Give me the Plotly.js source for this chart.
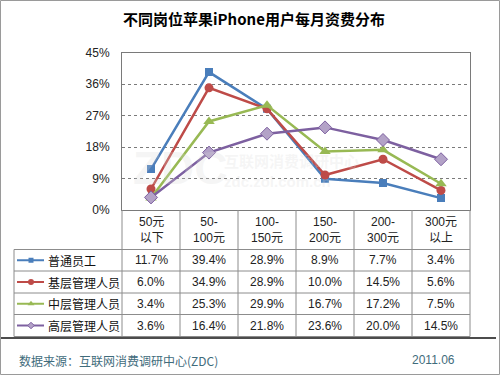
<!DOCTYPE html>
<html>
<head>
<meta charset="utf-8">
<script src="https://cdn.plot.ly/plotly-3.0.1.min.js"></script>
<style>html,body{margin:0;padding:0;background:#fff;}#chart{width:500px;height:375px;}</style>
</head>
<body>
<div id="chart"></div>
<script>
// ---- data ----
const categories = ['50元<br>以下', '50-<br>100元', '100-<br>150元', '150-<br>200元', '200-<br>300元', '300元<br>以上'];
const seriesNames = ['普通员工', '基层管理人员', '中层管理人员', '高层管理人员'];
const staff      = [11.7, 39.4, 28.9, 8.9, 7.7, 3.4];
const juniorMgr  = [6.0, 34.9, 28.9, 10.0, 14.5, 5.6];
const middleMgr  = [3.4, 25.3, 29.9, 16.7, 17.2, 7.5];
const seniorMgr  = [3.6, 16.4, 21.8, 23.6, 20.0, 14.5];
const yTicks = [0, 9, 18, 27, 36, 45];
const titleText = '不同岗位苹果iPhone用户每月资费分布';
const sourceText = '数据来源：互联网消费调研中心(ZDC)';
const dateText = '2011.06';

// ---- styles ----
const W = 500, H = 375;
const px = x => x / W;
const py = y => 1 - y / H;
const PL = 122, PR = 470, PT = 52.5, PB = 210;
const styles = [
  {color: '#4A7EBB', symbol: 'square', size: 8, legSize: 5, fill: '#4A7EBB'},
  {color: '#BE4B48', symbol: 'circle', size: 9, legSize: 6, fill: '#BE4B48'},
  {color: '#98B954', symbol: 'triangle-up', size: 10, legSize: 6, fill: '#98B954'},
  {color: '#7D60A0', symbol: 'diamond', size: 10, legSize: 5, fill: '#B3A2C7'}
];
const allSeries = [staff, juniorMgr, middleMgr, seniorMgr];
const xIdx = categories.map((_, i) => i);
const font = 'Arial, "Liberation Sans", "Noto Sans CJK SC", sans-serif';
const cjk = '"Noto Sans CJK SC", "Liberation Sans", sans-serif';

const traces = [];
allSeries.forEach((vals, s) => {
  traces.push({
    type: 'scatter', mode: 'lines+markers', x: xIdx, y: vals, name: seriesNames[s],
    line: {color: styles[s].color, width: 2.5},
    marker: {symbol: styles[s].symbol, size: styles[s].size, color: styles[s].fill,
             line: {color: styles[s].color, width: s === 3 ? 1 : 0}},
    showlegend: false, hoverinfo: 'skip', xaxis: 'x', yaxis: 'y'
  });
});

// table geometry
const rowEdges = [249.5, 271, 293, 314.5, 336.5];
const legendLeft = 14;
const shapes = [];
const gridColor = '#8c8c8c';
rowEdges.forEach(y => shapes.push({type: 'line', xref: 'paper', yref: 'paper',
  x0: px(legendLeft), x1: px(PR), y0: py(y), y1: py(y), line: {color: gridColor, width: 1}}));
for (let k = 0; k <= categories.length; k++) {
  const x = PL + (PR - PL) * k / categories.length;
  shapes.push({type: 'line', xref: 'paper', yref: 'paper', x0: px(x), x1: px(x),
    y0: py(PB), y1: py(rowEdges[rowEdges.length - 1]), line: {color: gridColor, width: 1}});
}
shapes.push({type: 'line', xref: 'paper', yref: 'paper', x0: px(legendLeft), x1: px(legendLeft),
  y0: py(rowEdges[0]), y1: py(rowEdges[rowEdges.length - 1]), line: {color: gridColor, width: 1}});
shapes.push({type: 'line', xref: 'paper', yref: 'paper', x0: 0, x1: px(496), y0: py(338), y1: py(338),
  line: {color: '#111', width: 1.5}});
shapes.push({type: 'rect', xref: 'paper', yref: 'paper', x0: px(0.5), x1: px(499.5), y0: py(0.5), y1: py(374.5),
  line: {color: '#9a9a9a', width: 1}});

const annotations = [];
annotations.push({xref: 'paper', yref: 'paper', x: px(254), y: py(18), text: '<b>' + titleText + '</b>',
  showarrow: false, font: {family: cjk, size: 15, color: '#000'}, xanchor: 'center', yanchor: 'middle'});
categories.forEach((c, i) => annotations.push({xref: 'x', yref: 'paper', x: i, y: py(229.5), text: c,
  showarrow: false, font: {family: font, size: 12, color: '#222'}, align: 'center', xanchor: 'center', yanchor: 'middle'}));
allSeries.forEach((vals, s) => {
  const yc = (rowEdges[s] + rowEdges[s + 1]) / 2;
  annotations.push({xref: 'paper', yref: 'paper', x: px(46), y: py(yc), text: seriesNames[s], showarrow: false,
    font: {family: cjk, size: 12, color: '#111'}, xanchor: 'left', yanchor: 'middle'});
  vals.forEach((v, i) => annotations.push({xref: 'x', yref: 'paper', x: i, y: py(yc),
    text: v.toFixed(1) + '%', showarrow: false, font: {family: font, size: 12, color: '#222'},
    xanchor: 'center', yanchor: 'middle'}));
  traces.push({type: 'scatter', mode: 'lines', x: [17, 44], y: [yc, yc], xaxis: 'x2', yaxis: 'y2',
    line: {color: styles[s].color, width: 2}, showlegend: false, hoverinfo: 'skip'});
  traces.push({type: 'scatter', mode: 'markers', x: [31], y: [yc], xaxis: 'x2', yaxis: 'y2',
    marker: {symbol: styles[s].symbol, size: styles[s].legSize, color: styles[s].fill,
      line: {color: styles[s].color, width: s === 3 ? 1 : 0}}, showlegend: false, hoverinfo: 'skip'});
});
annotations.push({xref: 'paper', yref: 'paper', x: px(17), y: py(360), text: sourceText, showarrow: false,
  font: {family: cjk, size: 12, color: '#3f6c7c'}, xanchor: 'left', yanchor: 'middle'});
annotations.push({xref: 'paper', yref: 'paper', x: px(457), y: py(360), text: dateText, showarrow: false,
  font: {family: font, size: 12, color: '#3f6c7c'}, xanchor: 'right', yanchor: 'middle'});
// faint watermark
annotations.push({xref: 'paper', yref: 'paper', x: px(180), y: py(168), text: '<b>ZDC</b>', showarrow: false,
  font: {family: font, size: 46, color: 'rgba(215,215,215,0.25)'}, xanchor: 'center', yanchor: 'middle'});
annotations.push({xref: 'paper', yref: 'paper', x: px(222), y: py(160), text: '<b>互联网消费调研中心</b>', showarrow: false,
  font: {family: cjk, size: 15, color: 'rgba(215,215,215,0.25)'}, xanchor: 'left', yanchor: 'middle'});
annotations.push({xref: 'paper', yref: 'paper', x: px(222), y: py(181), text: '<b>zdc.zol.com.cn</b>', showarrow: false,
  font: {family: font, size: 15, color: 'rgba(215,215,215,0.25)'}, xanchor: 'left', yanchor: 'middle'});

const layout = {
  width: W, height: H, margin: {l: 0, r: 0, t: 0, b: 0},
  paper_bgcolor: '#fff', plot_bgcolor: 'rgba(0,0,0,0)',
  showlegend: false,
  xaxis: {domain: [px(PL), px(PR)], range: [-0.5, categories.length - 0.5], showgrid: false, zeroline: false,
    showticklabels: false, ticks: '', showline: true, mirror: true, linecolor: '#7a7a7a', linewidth: 1, fixedrange: true},
  yaxis: {domain: [py(PB), py(PT)], range: [0, 45], tickvals: yTicks, ticktext: yTicks.map(v => v + '%'),
    showgrid: true, gridcolor: '#7a7a7a', griddash: 'dot', gridwidth: 1, zeroline: false,
    showline: true, mirror: true, linecolor: '#7a7a7a', linewidth: 1, ticks: '', ticklabelstandoff: 9,
    tickfont: {family: font, size: 12, color: '#222'}, fixedrange: true},
  xaxis2: {domain: [0, 1], range: [0, W], visible: false, anchor: 'y2', fixedrange: true},
  yaxis2: {domain: [0, 1], range: [H, 0], visible: false, anchor: 'x2', fixedrange: true},
  shapes: shapes, annotations: annotations
};
Plotly.newPlot('chart', traces, layout, {displayModeBar: false, staticPlot: true});
</script>
</body>
</html>
